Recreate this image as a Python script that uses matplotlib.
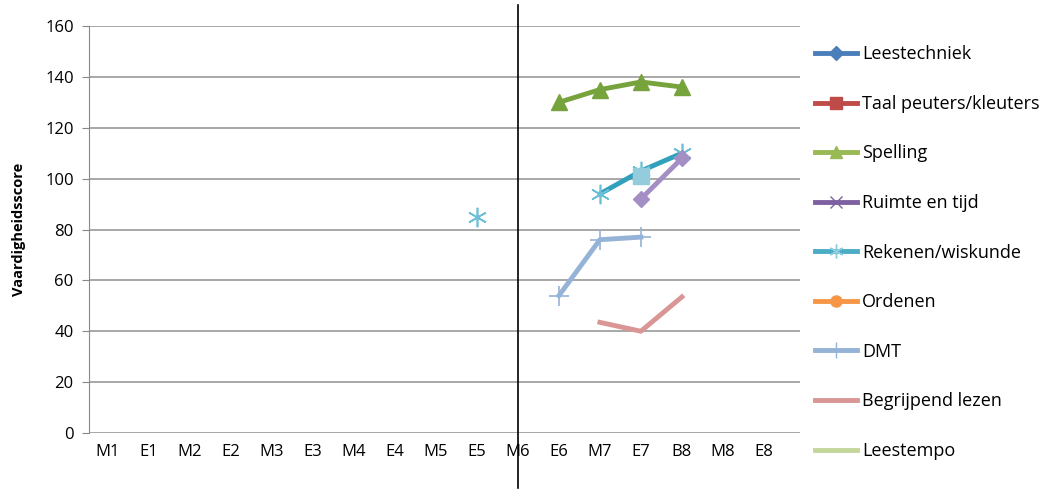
import numpy as np
import matplotlib
matplotlib.use('Agg')
import matplotlib.pyplot as plt
from matplotlib.lines import Line2D

plt.rcParams['font.family'] = ['Open Sans', 'DejaVu Sans']

# categorieen en meetwaarden (None = geen meting)
categories = ['M1', 'E1', 'M2', 'E2', 'M3', 'E3', 'M4', 'E4', 'M5', 'E5',
              'M6', 'E6', 'M7', 'E7', 'B8', 'M8', 'E8']
n = len(categories)
leestechniek = [None] * n
taal = [None] * n
spelling = [None] * 11 + [130, 135, 138, 136, None, None]
ruimte = [None] * 13 + [92, 108, None, None]
rekenen = [None] * 9 + [85, None, None, 94, 103, 110, None, None]
ordenen = [None] * n
dmt = [None] * 11 + [54, 76, 77, None, None, None]
begrijpend = [None] * 12 + [43.5, 40, 53.5, None, None]
leestempo = [None] * n
extra = [None] * 13 + [101, None, None, None]   # losse vierkante marker bij E7
scheidslijn = 10  # verticale lijn bij M6

def arr(v):
    return np.array([np.nan if a is None else a for a in v], dtype=float)

x = np.arange(n)

fig = plt.figure(figsize=(10.51, 4.91), dpi=100)
ax = fig.add_axes([89 / 1051, 58 / 491, 711 / 1051, 407 / 491])

ax.plot(x, arr(spelling), color='#77a33d', lw=3.5, marker='^', ms=12, zorder=3)
ax.plot(x, arr(rekenen), color='#31a0bd', lw=3.5, marker=(6, 2, 0), ms=14,
        mew=1.2, mec='#6bbfd6', zorder=3)
ax.plot(x, arr(ruimte), color='#a48fc4', lw=3.5, marker='D', ms=8, zorder=4)
ax.plot(x, arr(extra), color='#93cddd', lw=0, marker='s', ms=12, zorder=5)
ax.plot(x, arr(dmt), color='#95b3d7', lw=3.5, marker='+', ms=14, mew=1.2, zorder=3)
ax.plot(x, arr(begrijpend), color='#d99694', lw=3.5, zorder=3)

ax.axvline(scheidslijn, ymin=-0.135, ymax=1.052, color='black', lw=1.2,
           clip_on=False, zorder=6)

ax.set_xlim(-0.46, 16.88)
ax.set_ylim(0, 160)
ax.set_yticks(np.arange(0, 161, 20))
ax.set_xticks(x)
ax.set_xticklabels(categories, fontsize=12)
ax.tick_params(axis='x', length=0, pad=8)
ax.tick_params(axis='y', labelsize=12, length=5, color='#888888', pad=6)
ax.yaxis.grid(True, color='#9a9a9a', lw=1.2)
ax.set_axisbelow(True)
for s in ['top', 'right', 'bottom']:
    ax.spines[s].set_visible(False)
ax.spines['left'].set_color('#888888')
ax.set_ylabel('Vaardigheidsscore', fontsize=10.5, fontweight='bold', labelpad=14)

handles = [
    Line2D([], [], color='#4a7ebb', lw=3.5, marker='D', ms=7),
    Line2D([], [], color='#be4b48', lw=3.5, marker='s', ms=8),
    Line2D([], [], color='#98b954', lw=3.5, marker='^', ms=9),
    Line2D([], [], color='#7d60a0', lw=3.5, marker='x', ms=9, mew=1),
    Line2D([], [], color='#4bacc6', lw=3.5, marker=(6, 2, 0), ms=10, mew=1,
           mec='#8ccde0'),
    Line2D([], [], color='#f79646', lw=3.5, marker='o', ms=8),
    Line2D([], [], color='#95b3d7', lw=3.5, marker='|', ms=12, mew=1),
    Line2D([], [], color='#d99694', lw=3.5),
    Line2D([], [], color='#c3d69b', lw=3.5),
]
labels = ['Leestechniek', 'Taal peuters/kleuters', 'Spelling', 'Ruimte en tijd',
          'Rekenen/wiskunde', 'Ordenen', 'DMT', 'Begrijpend lezen', 'Leestempo']
fig.legend(handles, labels, loc='upper left', bbox_to_anchor=(808 / 1051, 1 - 38 / 491),
           frameon=False, fontsize=13, handlelength=2.3, handletextpad=0.3,
           labelspacing=1.75, borderaxespad=0)

fig.savefig('out.png', dpi=100)
